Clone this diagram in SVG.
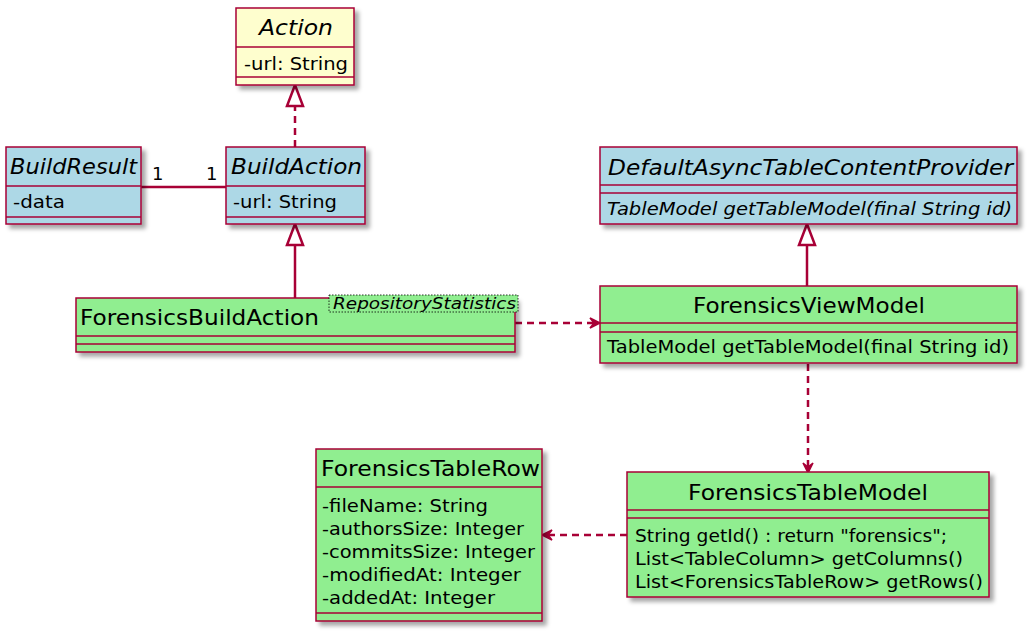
<svg xmlns="http://www.w3.org/2000/svg" width="1027" height="631" viewBox="0 0 1027 631">
<style>
.box{stroke:#A80036;stroke-width:1.5;filter:url(#sh)}
.ln{stroke:#A80036;stroke-width:1.5}
.y{fill:#FEFECE}.b{fill:#ADD8E6}.g{fill:#90EE90}
text{font-family:"DejaVu Sans","Liberation Sans",sans-serif;fill:#000}
.t{font-size:21px}.a{font-size:18px}.i{font-style:italic}
.e{fill:none;stroke:#A80036;stroke-width:2.5}
.d{stroke-dasharray:7,5}
</style>
<defs>
<filter id="sh" x="-10%" y="-10%" width="130%" height="140%">
<feDropShadow dx="4" dy="4" stdDeviation="2" flood-color="#000" flood-opacity="0.35"/>
</filter>
</defs>
<rect width="1027" height="631" fill="#fff"/>
<g id="connectors">
<path class="e d" d="M295,147 V106"/>
<polygon points="295,85 287,106 303,106" fill="#fff" stroke="#A80036" stroke-width="2.5"/>
<path class="e" d="M141,187 H226"/>
<text class="a" x="152" y="180">1</text>
<text class="a" x="206" y="180">1</text>
<path class="e" d="M295,298 V245"/>
<polygon points="295,224 287,245 303,245" fill="#fff" stroke="#A80036" stroke-width="2.5"/>
<path class="e" d="M807,286 V245"/>
<polygon points="807,224 799,245 815,245" fill="#fff" stroke="#A80036" stroke-width="2.5"/>
<path class="e d" d="M515,323 H596"/>
<polygon points="600,323 590,318 594,323 590,328" fill="#A80036" stroke="#A80036" stroke-width="1.5"/>
<path class="e d" d="M808,364 V469"/>
<polygon points="808,473 803,463 808,467 813,463" fill="#A80036" stroke="#A80036" stroke-width="1.5"/>
<path class="e d" d="M627,535 H546"/>
<polygon points="542,535 552,530 548,535 552,540" fill="#A80036" stroke="#A80036" stroke-width="1.5"/>
</g>
<g id="Action">
<rect class="box y" x="236" y="8" width="118" height="77"/>
<line class="ln" x1="236" y1="47" x2="354" y2="47"/>
<line class="ln" x1="236" y1="77" x2="354" y2="77"/>
<text class="t i" x="259" y="35" textLength="74" lengthAdjust="spacingAndGlyphs">Action</text>
<text class="a" x="244" y="70" textLength="104" lengthAdjust="spacingAndGlyphs">-url: String</text>
</g>
<g id="BuildResult">
<rect class="box b" x="6" y="147" width="135" height="77"/>
<line class="ln" x1="6" y1="186" x2="141" y2="186"/>
<line class="ln" x1="6" y1="217" x2="141" y2="217"/>
<text class="t i" x="10" y="174" textLength="127" lengthAdjust="spacingAndGlyphs">BuildResult</text>
<text class="a" x="13" y="208" textLength="52" lengthAdjust="spacingAndGlyphs">-data</text>
</g>
<g id="BuildAction">
<rect class="box b" x="226" y="147" width="139" height="77"/>
<line class="ln" x1="226" y1="186" x2="365" y2="186"/>
<line class="ln" x1="226" y1="217" x2="365" y2="217"/>
<text class="t i" x="231" y="174" textLength="131" lengthAdjust="spacingAndGlyphs">BuildAction</text>
<text class="a" x="233" y="208" textLength="104" lengthAdjust="spacingAndGlyphs">-url: String</text>
</g>
<g id="DefaultAsyncTableContentProvider">
<rect class="box b" x="600" y="147" width="417" height="77"/>
<line class="ln" x1="600" y1="185" x2="1017" y2="185"/>
<line class="ln" x1="600" y1="193" x2="1017" y2="193"/>
<text class="t i" x="608" y="175" textLength="405" lengthAdjust="spacingAndGlyphs">DefaultAsyncTableContentProvider</text>
<text class="a i" x="607" y="215" textLength="405" lengthAdjust="spacingAndGlyphs">TableModel getTableModel(final String id)</text>
</g>
<g id="ForensicsBuildAction">
<rect class="box g" x="76" y="298" width="439" height="54"/>
<line class="ln" x1="76" y1="336" x2="515" y2="336"/>
<line class="ln" x1="76" y1="344" x2="515" y2="344"/>
<text class="t" x="80" y="325" textLength="239" lengthAdjust="spacingAndGlyphs">ForensicsBuildAction</text>
<rect x="329" y="295" width="189" height="17" fill="#90EE90" stroke="#000" stroke-width="0.8" stroke-dasharray="1.5,1.5"/>
<text class="i" x="333" y="309" font-size="15" textLength="183" lengthAdjust="spacingAndGlyphs">RepositoryStatistics</text>
</g>
<g id="ForensicsViewModel">
<rect class="box g" x="600" y="286" width="417" height="77"/>
<line class="ln" x1="600" y1="323" x2="1017" y2="323"/>
<line class="ln" x1="600" y1="332" x2="1017" y2="332"/>
<text class="t" x="693" y="313" textLength="232" lengthAdjust="spacingAndGlyphs">ForensicsViewModel</text>
<text class="a" x="607" y="353" textLength="402" lengthAdjust="spacingAndGlyphs">TableModel getTableModel(final String id)</text>
</g>
<g id="ForensicsTableRow">
<rect class="box g" x="316" y="449" width="226" height="172"/>
<line class="ln" x1="316" y1="487" x2="542" y2="487"/>
<line class="ln" x1="316" y1="613" x2="542" y2="613"/>
<text class="t" x="321" y="476" textLength="219" lengthAdjust="spacingAndGlyphs">ForensicsTableRow</text>
<text class="a" x="322" y="512" textLength="166" lengthAdjust="spacingAndGlyphs">-fileName: String</text>
<text class="a" x="322" y="535" textLength="202" lengthAdjust="spacingAndGlyphs">-authorsSize: Integer</text>
<text class="a" x="322" y="558" textLength="213" lengthAdjust="spacingAndGlyphs">-commitsSize: Integer</text>
<text class="a" x="322" y="581" textLength="199" lengthAdjust="spacingAndGlyphs">-modifiedAt: Integer</text>
<text class="a" x="322" y="604" textLength="173" lengthAdjust="spacingAndGlyphs">-addedAt: Integer</text>
</g>
<g id="ForensicsTableModel">
<rect class="box g" x="627" y="472" width="362" height="125"/>
<line class="ln" x1="627" y1="510" x2="989" y2="510"/>
<line class="ln" x1="627" y1="518" x2="989" y2="518"/>
<text class="t" x="688" y="500" textLength="240" lengthAdjust="spacingAndGlyphs">ForensicsTableModel</text>
<text class="a" x="635" y="542" textLength="312" lengthAdjust="spacingAndGlyphs">String getId() : return "forensics";</text>
<text class="a" x="635" y="565" textLength="328" lengthAdjust="spacingAndGlyphs">List&lt;TableColumn&gt; getColumns()</text>
<text class="a" x="635" y="588" textLength="348" lengthAdjust="spacingAndGlyphs">List&lt;ForensicsTableRow&gt; getRows()</text>
</g>
</svg>
